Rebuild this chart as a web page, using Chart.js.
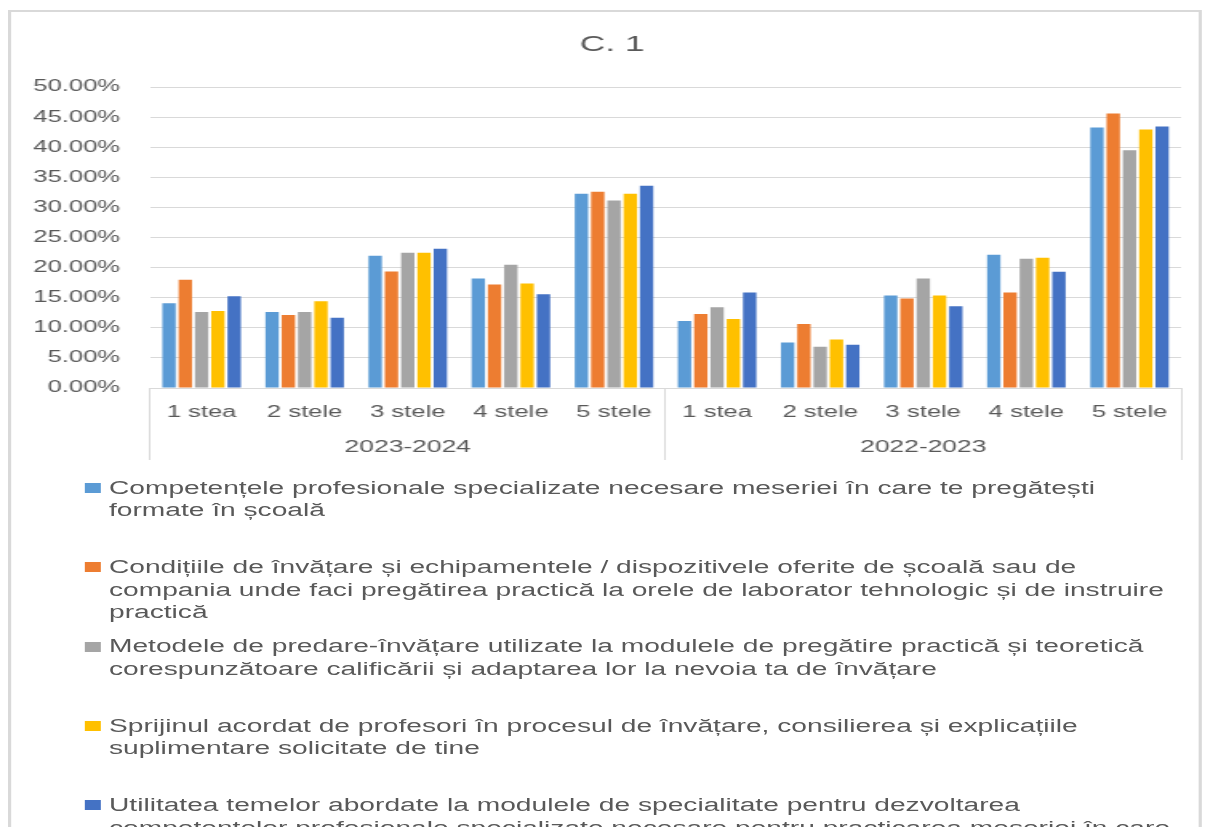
<!DOCTYPE html>
<html><head><meta charset="utf-8">
<script src="https://cdn.jsdelivr.net/npm/chart.js@4.4.1/dist/chart.umd.min.js"></script>
<style>
html,body{margin:0;padding:0;background:#fff;overflow:hidden;width:1205px;height:827px;}
#wrap{position:absolute;left:0;top:0;width:753px;height:827px;transform:scaleX(1.6003);transform-origin:0 0;overflow:hidden;}
#frame{position:absolute;left:5px;top:10px;width:746px;height:840px;border:2px solid #d9d9d9;box-sizing:border-box;}
#c{position:absolute;left:0;top:0;}
.item{position:absolute;left:0;width:753px;font-family:'Liberation Sans',Arial,sans-serif;font-size:17.6px;line-height:22.7px;color:#595959;white-space:nowrap;}
.box{position:absolute;left:52.5px;width:10.6px;height:10px;}
.txt{position:absolute;left:68.1px;top:0;}
</style></head><body>
<div id="wrap"><div id="frame"></div><canvas id="c" width="753" height="470"></canvas><div id="legend"></div></div>
<script>
const chartTitle = 'C. 1';
const categories = ['1 stea','2 stele','3 stele','4 stele','5 stele','1 stea','2 stele','3 stele','4 stele','5 stele'];
const groups = ['2023-2024','2022-2023'];
const seriesLines = [
  ['Competențele profesionale specializate necesare meseriei în care te pregătești', 'formate în școală'],
  ['Condițiile de învățare și echipamentele / dispozitivele oferite de școală sau de', 'compania unde faci pregătirea practică la orele de laborator tehnologic și de instruire', 'practică'],
  ['Metodele de predare-învățare utilizate la modulele de pregătire practică și teoretică', 'corespunzătoare calificării și adaptarea lor la nevoia ta de învățare'],
  ['Sprijinul acordat de profesori în procesul de învățare, consilierea și explicațiile', 'suplimentare solicitate de tine'],
  ['Utilitatea temelor abordate la modulele de specialitate pentru dezvoltarea', 'competențelor profesionale specializate necesare pentru practicarea meseriei în care', 'te pregătești']
];
const competente = [14.08, 12.64, 21.96, 18.19, 32.28, 11.15, 7.54, 15.36, 22.13, 43.26];
const conditii   = [18.00, 12.14, 19.35, 17.19, 32.61, 12.31, 10.65, 14.86, 15.86, 45.59];
const metode     = [12.64, 12.64, 22.46, 20.46, 31.16, 13.41, 6.87, 18.19, 21.46, 39.48];
const sprijin    = [12.80, 14.41, 22.46, 17.35, 32.28, 11.48, 8.04, 15.36, 21.63, 42.93];
const utilitate  = [15.24, 11.65, 23.13, 15.57, 33.61, 15.86, 7.20, 13.58, 19.30, 43.43];
const seriesValues = [competente, conditii, metode, sprijin, utilitate];
const colors = ['#5B9BD5', '#ED7D31', '#A5A5A5', '#FFC000', '#4472C4'];
const yMin = 0, yMax = 50, yStep = 5;

const FONT = "'Liberation Sans', Arial, sans-serif";
const TEXT = '#595959';
const GRID = '#d9d9d9';
Chart.defaults.font.family = FONT;
Chart.defaults.color = TEXT;

const datasets = seriesValues.map((vals, i) => ({
  label: seriesLines[i].join(' '),
  data: vals,
  backgroundColor: colors[i],
  borderWidth: 0,
  categoryPercentage: 0.79,
  barPercentage: 0.82
}));

// Chart title, drawn centred over the frame (Excel centres it on the whole chart box)
const titlePlugin = {
  id: 'titleAt',
  afterDraw(ch) {
    const ctx = ch.ctx;
    ctx.save();
    ctx.font = '22px ' + FONT;
    ctx.fillStyle = TEXT;
    ctx.textAlign = 'center';
    ctx.textBaseline = 'middle';
    ctx.fillText(chartTitle, 382.5, 45);
    ctx.restore();
  }
};

const chart = new Chart(document.getElementById('c'), {
  type: 'bar',
  data: { labels: categories, datasets },
  plugins: [titlePlugin],
  options: {
    responsive: false,
    animation: false,
    layout: { padding: { left: 0, right: 15, top: 87, bottom: 0 } },
    plugins: {
      legend: { display: false },
      tooltip: { enabled: false },
      title: { display: false }
    },
    scales: {
      y: {
        min: yMin, max: yMax,
        afterFit: s => { s.width = 93.75; },
        ticks: { stepSize: yStep, padding: 18.75, color: TEXT, font: { size: 16 },
                 callback: v => Number(v).toFixed(2) + '%' },
        grid: { color: GRID, drawTicks: false, lineWidth: 1 },
        border: { display: false }
      },
      x: {
        weight: 0,
        afterFit: s => { s.height = 40; },
        grid: {
          display: true, drawOnChartArea: false, drawTicks: true, tickLength: 72, offset: true,
          color: c => (c.type !== 'tick' || c.index === 0 || c.index === 5) ? GRID : 'rgba(0,0,0,0)'
        },
        border: { display: true, color: GRID },
        ticks: { padding: -56.6, color: TEXT, font: { size: 16 }, maxRotation: 0, autoSkip: false }
      },
      x2: {
        type: 'category', labels: groups, position: 'bottom', offset: true, weight: 1,
        afterFit: s => { s.height = 42; },
        grid: { display: false, drawTicks: false },
        border: { display: false },
        ticks: { padding: 10, color: TEXT, font: { size: 16.5 }, maxRotation: 0, autoSkip: false }
      }
    }
  }
});

// HTML legend built from the chart's datasets
const legend = document.getElementById('legend');
chart.data.datasets.forEach((ds, i) => {
  const center = 488 + i * 79.3;
  const item = document.createElement('div');
  item.className = 'item';
  item.style.top = (center - 11.35) + 'px';
  const box = document.createElement('div');
  box.className = 'box';
  box.style.background = ds.backgroundColor;
  box.style.top = (11.35 - 5) + 'px';
  const txt = document.createElement('div');
  txt.className = 'txt';
  txt.innerHTML = seriesLines[i].map(l => l.replace(/&/g,'&amp;').replace(/</g,'&lt;')).join('<br>');
  item.appendChild(box);
  item.appendChild(txt);
  legend.appendChild(item);
});
</script>
</body></html>
